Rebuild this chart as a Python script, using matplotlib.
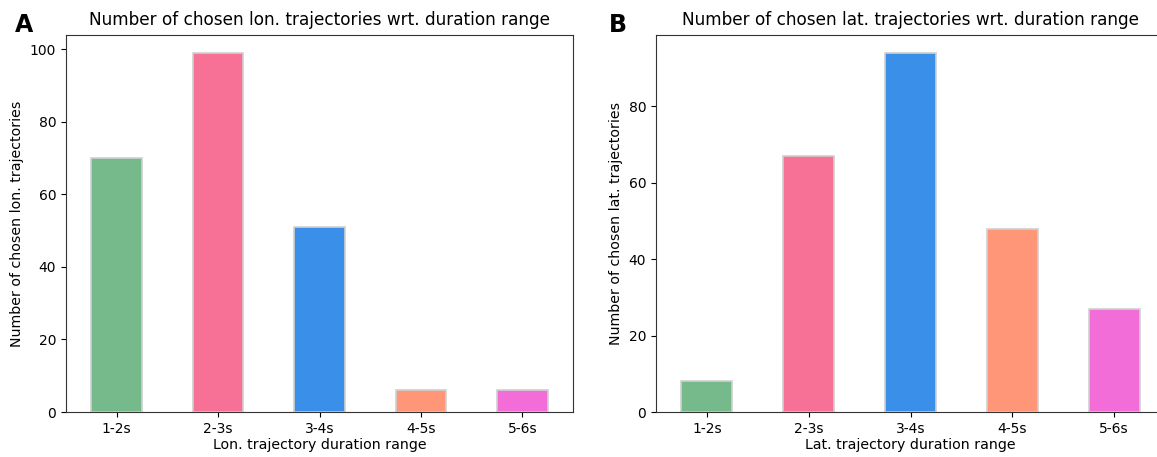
import matplotlib
matplotlib.use("Agg")
import matplotlib.pyplot as plt
import numpy as np

# ---- data -----------------------------------------------------------------
ranges = ["1-2s", "2-3s", "3-4s", "4-5s", "5-6s"]
lon_counts = [70, 99, 51, 6, 6]
lat_counts = [8, 67, 94, 48, 27]
colors = ["#76b98a", "#f77096", "#3a8fe9", "#fe9677", "#f26dd8"]

W, H = 1157, 457
fig = plt.figure(figsize=(W / 100, H / 100), dpi=100)

def panel(rect, vals, title, xlabel, ylabel, letter, letter_x):
    ax = fig.add_axes(rect)
    x = np.arange(len(vals))
    ax.bar(x, vals, width=0.5, color=colors, edgecolor="#d0d0d0", linewidth=1.2)
    ax.set_xlim(-0.5, len(vals) - 0.5)
    ax.set_ylim(0, max(vals) * 1.05)
    ax.set_xticks(x)
    ax.set_xticklabels(ranges, fontsize=10)
    ax.tick_params(axis="y", labelsize=10)
    ax.set_title(title, fontsize=12.2, pad=7)
    ax.set_xlabel(xlabel, fontsize=10.2, labelpad=2)
    ax.set_ylabel(ylabel, fontsize=10.2)
    for s in ax.spines.values():
        s.set_color("#333333")
    fig.text(letter_x, 1 - 25 / H, letter, fontsize=17, fontweight="bold", ha="center", va="center")
    return ax

bot = (H - 412) / H
hgt = (412 - 35) / H
panel([66 / W, bot, 507 / W, hgt], lon_counts,
      "Number of chosen lon. trajectories wrt. duration range",
      "Lon. trajectory duration range", "Number of chosen lon. trajectories", "A", 24 / W)
panel([656 / W, bot, 509 / W, hgt], lat_counts,
      "Number of chosen lat. trajectories wrt. duration range",
      "Lat. trajectory duration range", "Number of chosen lat. trajectories", "B", 618 / W)

fig.savefig("out.png", dpi=100, facecolor="white")
